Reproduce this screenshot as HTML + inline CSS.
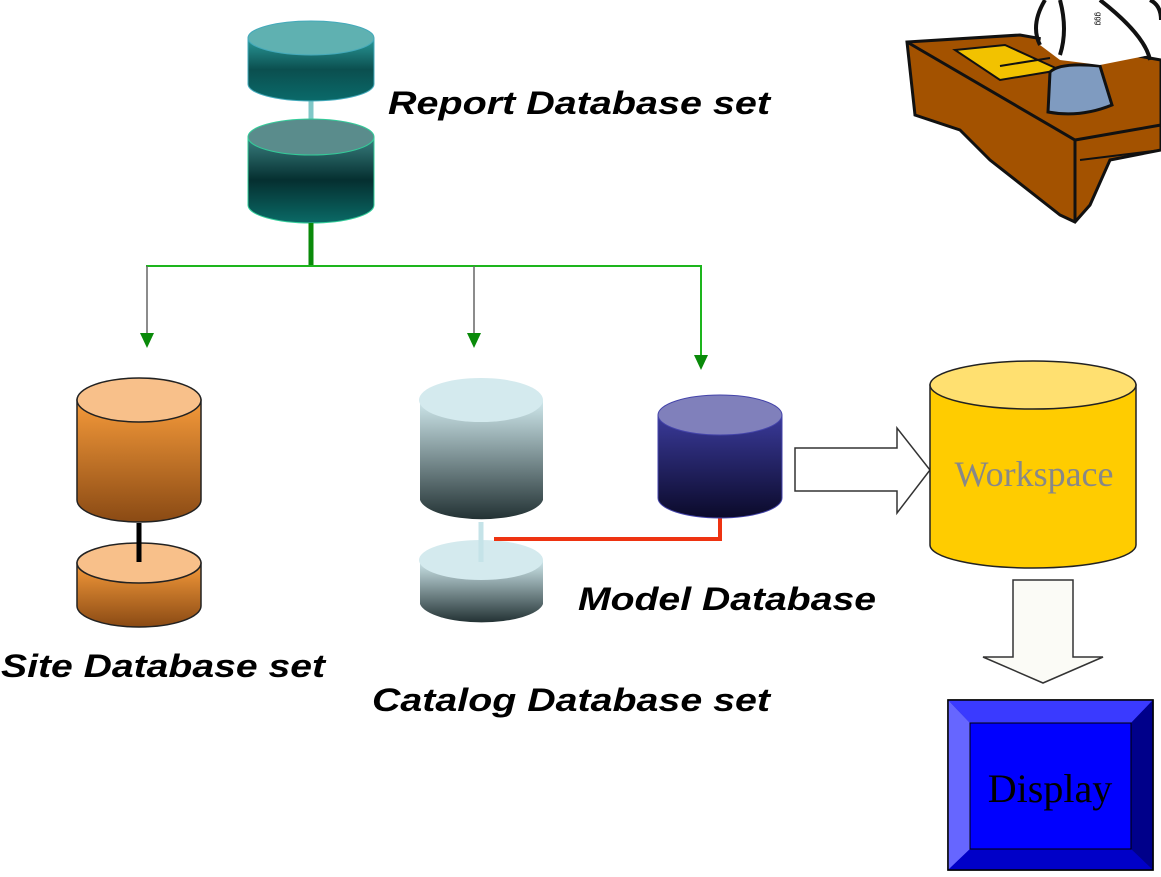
<!DOCTYPE html>
<html><head><meta charset="utf-8"><style>
html,body{margin:0;padding:0;background:#fff;}
svg{display:block;}
.lbl{font-family:"Liberation Sans",sans-serif;font-weight:bold;font-style:italic;font-size:32px;fill:#000;}
</style></head><body>
<svg width="1161" height="877" viewBox="0 0 1161 877" xmlns="http://www.w3.org/2000/svg">
<defs>
<linearGradient id="teal" x1="0" y1="0" x2="0" y2="1"><stop offset="0" stop-color="#2a9a9a"/><stop offset="0.5" stop-color="#0b4f4f"/><stop offset="1" stop-color="#0a6a6a"/></linearGradient>
<linearGradient id="teal2" x1="0" y1="0" x2="0" y2="1"><stop offset="0" stop-color="#3a8080"/><stop offset="0.5" stop-color="#052f30"/><stop offset="1" stop-color="#0a6a66"/></linearGradient>
<linearGradient id="orange" x1="0" y1="0" x2="0" y2="1"><stop offset="0" stop-color="#f59a3a"/><stop offset="1" stop-color="#8a4a14"/></linearGradient>
<linearGradient id="grey" x1="0" y1="0" x2="0" y2="1"><stop offset="0" stop-color="#cfe8ec"/><stop offset="1" stop-color="#233234"/></linearGradient>
<linearGradient id="navy" x1="0" y1="0" x2="0" y2="1"><stop offset="0" stop-color="#3a3a9a"/><stop offset="1" stop-color="#0b0a2a"/></linearGradient>
</defs>

<!-- desk clipart -->
<path d="M907 42 L1020 35 L1161 60 L1161 150 L1110 160 L1090 205 L1075 222 L1060 215 L990 160 L960 130 L915 115 Z" fill="#a35200" stroke="#111" stroke-width="3"/>
<path d="M907 42 L1075 140 L1161 125" fill="none" stroke="#111" stroke-width="3"/>
<path d="M1075 140 L1075 222" fill="none" stroke="#111" stroke-width="3"/>
<path d="M1080 160 L1161 150" fill="none" stroke="#111" stroke-width="2"/>
<path d="M955 50 L1005 45 L1060 70 L1000 80 Z" fill="#f2c200" stroke="#111" stroke-width="2"/>
<path d="M1000 66 L1050 58" fill="none" stroke="#111" stroke-width="2"/>
<path d="M1050 72 Q1060 62 1100 66 L1112 105 Q1080 118 1048 112 Z" fill="#7f9bc0" stroke="#111" stroke-width="3"/>
<path d="M1045 0 L1100 0 L1150 55 L1100 65 L1060 60 L1040 45 Z" fill="#fff"/>
<path d="M1045 0 Q1030 25 1040 45 M1060 0 Q1068 30 1060 55 M1100 0 Q1145 35 1150 60 M1150 0 Q1161 5 1161 20" fill="none" stroke="#111" stroke-width="4"/>
<text x="1096" y="12" font-size="8" font-family="Liberation Sans" transform="rotate(90 1096 12)">ggg</text>

<!-- Report DB set -->
<line x1="311" y1="95" x2="311" y2="125" stroke="#7fc7c7" stroke-width="5"/>
<path d="M248 38 L248 84 A63 17 0 0 0 374 84 L374 38 Z" fill="url(#teal)" stroke="#4ab" stroke-width="1"/>
<ellipse cx="311" cy="38" rx="63" ry="17" fill="#5fb1b1" stroke="#4ab" stroke-width="1"/>
<path d="M248 137 L248 205 A63 18 0 0 0 374 205 L374 137 Z" fill="url(#teal2)" stroke="#3c9" stroke-width="1"/>
<ellipse cx="311" cy="137" rx="63" ry="18" fill="#5a8c8c" stroke="#3c9" stroke-width="1"/>
<text class="lbl" x="388" y="114" textLength="382" lengthAdjust="spacingAndGlyphs">Report Database set</text>

<!-- green tree -->
<line x1="311" y1="223" x2="311" y2="266" stroke="#0a8a0a" stroke-width="5"/>
<line x1="146" y1="266" x2="702" y2="266" stroke="#1db51d" stroke-width="2"/>
<line x1="147" y1="266" x2="147" y2="334" stroke="#666" stroke-width="1.5"/>
<polygon points="140,333 154,333 147,348" fill="#0a8a0a"/>
<line x1="474" y1="266" x2="474" y2="334" stroke="#666" stroke-width="1.5"/>
<polygon points="467,333 481,333 474,348" fill="#0a8a0a"/>
<line x1="701" y1="266" x2="701" y2="356" stroke="#1db51d" stroke-width="2"/>
<polygon points="694,355 708,355 701,370" fill="#0a8a0a"/>

<!-- Site DB set -->
<path d="M77 400 L77 500 A62 22 0 0 0 201 500 L201 400 Z" fill="url(#orange)" stroke="#222" stroke-width="1.5"/>
<ellipse cx="139" cy="400" rx="62" ry="22" fill="#f8c08a" stroke="#222" stroke-width="1.5"/>
<path d="M77 563 L77 606 A62 21 0 0 0 201 606 L201 563 Z" fill="url(#orange)" stroke="#222" stroke-width="1.5"/>
<ellipse cx="139" cy="563" rx="62" ry="20" fill="#f8c08a" stroke="#222" stroke-width="1.5"/>
<line x1="139" y1="523" x2="139" y2="562" stroke="#000" stroke-width="5"/>
<text class="lbl" x="1" y="677" textLength="324" lengthAdjust="spacingAndGlyphs">Site Database set</text>

<!-- Catalog DB set -->
<path d="M420 400 L420 500 A62 22 0 0 0 543 500 L543 400 Z" fill="url(#grey)"/>
<ellipse cx="481" cy="400" rx="62" ry="22" fill="#d4eaee"/>
<path d="M420 560 L420 604 A62 21 0 0 0 543 604 L543 560 Z" fill="url(#grey)"/>
<ellipse cx="481" cy="560" rx="62" ry="20" fill="#d4eaee"/>
<line x1="481" y1="522" x2="481" y2="562" stroke="#c5e3e8" stroke-width="5"/>
<text class="lbl" x="372" y="711" textLength="398" lengthAdjust="spacingAndGlyphs">Catalog Database set</text>

<!-- Model DB -->
<polyline points="494,539 720,539 720,515" fill="none" stroke="#ee3311" stroke-width="4"/>
<path d="M658 415 L658 498 A62 20 0 0 0 782 498 L782 415 Z" fill="url(#navy)" stroke="#44a" stroke-width="1"/>
<ellipse cx="720" cy="415" rx="62" ry="20" fill="#8080bb" stroke="#44a" stroke-width="1"/>
<text class="lbl" x="578" y="610" textLength="298" lengthAdjust="spacingAndGlyphs">Model Database</text>

<!-- right arrow -->
<polygon points="795,448 897,448 897,428 930,470 897,513 897,491 795,491" fill="#fff" stroke="#333" stroke-width="1.5"/>

<!-- Workspace -->
<path d="M930 385 L930 545 A103 23 0 0 0 1136 545 L1136 385 Z" fill="#ffcc00" stroke="#222" stroke-width="1.5"/>
<ellipse cx="1033" cy="385" rx="103" ry="24" fill="#ffe070" stroke="#222" stroke-width="1.5"/>
<text x="1034" y="486" text-anchor="middle" font-family="Liberation Serif,serif" font-size="36" fill="#888">Workspace</text>

<!-- down arrow -->
<polygon points="1013,580 1073,580 1073,657 1103,657 1043,683 983,657 1013,657" fill="#fbfbf6" stroke="#333" stroke-width="1.5"/>

<!-- Display -->
<rect x="948" y="700" width="205" height="170" fill="#0000b0" stroke="#000" stroke-width="1.5"/>
<polygon points="948,700 1153,700 1131,723 970,723" fill="#3a3aff"/>
<polygon points="948,700 970,723 970,849 948,870" fill="#6666ff"/>
<polygon points="1153,700 1153,870 1131,849 1131,723" fill="#00008a"/>
<polygon points="948,870 1153,870 1131,849 970,849" fill="#0000c8"/>
<rect x="970" y="723" width="161" height="126" fill="#0000ff" stroke="#000" stroke-width="1"/>
<rect x="948" y="700" width="205" height="170" fill="none" stroke="#000" stroke-width="1.5"/>
<text x="1050" y="802" text-anchor="middle" font-family="Liberation Serif,serif" font-size="40" fill="#000">Display</text>
</svg>
</body></html>
